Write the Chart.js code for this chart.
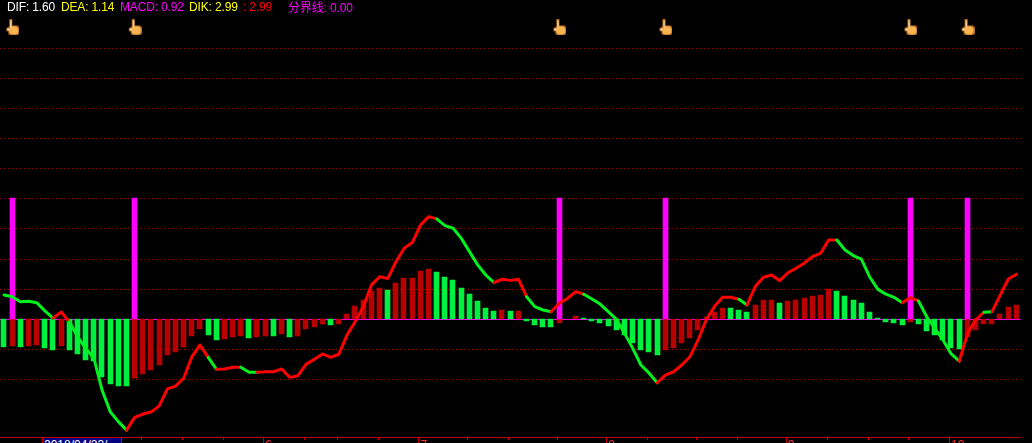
<!DOCTYPE html>
<html>
<head>
<meta charset="utf-8">
<title>MACD</title>
<script src="https://cdn.jsdelivr.net/npm/chart.js@4"></script>
<style>
html,body{margin:0;padding:0;background:#000;overflow:hidden}
#wrap{position:relative;width:1032px;height:443px;overflow:hidden;background:#000}
canvas{position:absolute;left:0;top:0}
.t{position:absolute;top:0;font:12px/14px "Liberation Sans",Arial,sans-serif;white-space:pre;letter-spacing:-0.15px}
#dateBox{position:absolute;left:42px;top:438px;width:77px;height:8px;background:#000080;border-left:1px solid #c00000;border-right:1px solid #c00000;color:#fff;font:12px/14px "Liberation Sans",Arial,sans-serif;padding-left:1px;box-sizing:content-box;white-space:pre}
</style>
</head>
<body>
<div id="wrap">
<canvas id="c" width="1032" height="443"></canvas>
<span class="t" style="left:7px;color:#fff">DIF: 1.60</span>
<span class="t" style="left:61px;color:#ff0">DEA: 1.14</span>
<span class="t" style="left:120px;color:#f0f">MACD: 0.92</span>
<span class="t" style="left:189px;color:#ff0">DIK: 2.99</span>
<span class="t" style="left:243px;color:#f00">: 2.99</span>
<span class="t" style="left:288px;color:#f0f;font-family:'Noto Sans CJK SC','Liberation Sans',sans-serif">分界线<span style="font-family:'Liberation Sans'">: 0.00</span></span>
<div id="dateBox">2018/04/23/</div>
</div>
<script>
const difValues = [
0.86,0.80,0.62,0.64,0.59,0.30,0.04,0.26,-0.09,-0.62,-1.03,-1.38,-2.51,-3.28,-3.63,-3.93,
-3.48,-3.36,-3.29,-3.07,-2.47,-2.37,-2.09,-1.33,-0.91,-1.35,-1.77,-1.76,-1.70,-1.70,-1.88,-1.88,
-1.86,-1.86,-1.76,-2.06,-2.00,-1.59,-1.42,-1.23,-1.35,-1.24,-0.56,-0.09,0.45,1.22,1.51,1.45,
2.04,2.52,2.72,3.34,3.64,3.56,3.32,3.23,2.87,2.40,1.93,1.57,1.30,1.42,1.38,1.42,
0.80,0.45,0.33,0.27,0.57,0.74,0.98,0.89,0.72,0.54,0.27,0.00,-0.50,-1.03,-1.62,-1.91,
-2.25,-1.98,-1.86,-1.62,-1.33,-0.73,-0.02,0.45,0.78,0.78,0.71,0.51,1.16,1.49,1.57,1.37,
1.65,1.81,1.99,2.22,2.34,2.81,2.81,2.46,2.26,2.13,1.51,1.07,0.89,0.78,0.59,0.77,
0.65,0.09,-0.32,-0.73,-1.23,-1.48,-0.50,-0.02,0.25,0.27,0.86,1.43,1.60];
const macdValues = [
-1.76,-1.70,-1.76,-1.70,-1.66,-1.83,-1.95,-1.70,-1.95,-2.21,-2.60,-2.66,-3.70,-4.15,-4.28,-4.28,
-3.76,-3.50,-3.25,-2.92,-2.28,-2.08,-1.76,-1.05,-0.63,-0.99,-1.31,-1.25,-1.12,-1.05,-1.18,-1.12,
-1.05,-1.05,-0.92,-1.12,-1.05,-0.60,-0.47,-0.28,-0.34,-0.28,0.34,0.86,1.25,1.83,2.02,1.89,
2.34,2.66,2.66,3.12,3.25,3.05,2.73,2.54,2.02,1.63,1.18,0.73,0.54,0.60,0.54,0.54,
-0.11,-0.37,-0.50,-0.50,-0.24,0.02,0.21,0.08,-0.11,-0.24,-0.43,-0.69,-1.01,-1.53,-1.98,-2.11,
-2.30,-1.98,-1.85,-1.53,-1.21,-0.69,0.13,0.47,0.73,0.73,0.60,0.47,0.92,1.25,1.25,1.05,
1.18,1.25,1.37,1.50,1.57,1.95,1.83,1.50,1.25,1.05,0.47,0.08,-0.17,-0.24,-0.37,-0.17,
-0.30,-0.75,-1.01,-1.34,-1.85,-1.92,-1.14,-0.69,-0.30,-0.30,0.34,0.79,0.92];
const macdGreenBars = [0,2,5,6,8,9,10,11,12,13,14,15,25,26,30,33,35,40,47,53,54,55,56,57,58,59,60,62,64,65,66,67,
71,72,73,74,75,76,77,78,79,80,89,90,91,95,102,103,104,105,106,107,108,109,110,112,113,114,115,116,117];
const difGreenRuns = [[0,6],[8,15],[25,26],[29,31],[53,60],[64,67],[71,80],[90,91],[102,110],[112,117],[120,121]];
const signalBars = [1,16,68,81,111,118];
const signalHeight = 7.81;
const handLevel = 10.35;
const monthTicks = {32:"6",51:"7",74:"8",96:"9",116:"10"};
const minorTicks = [17,22,27,37,41,46,57,62,68,79,85,90,101,106,111];

const categories = difValues.map((_, i) => i);
const pxLine = 28.2, pxBar = 15.5, zeroY = 319.3, axisY = 437.3, gridStepPx = 30.1;

const hand = document.createElement('canvas');
hand.width = 14; hand.height = 16;
(function () {
  const g = hand.getContext('2d');
  g.fillStyle = '#b86a1c';
  g.beginPath(); g.roundRect(3, 6, 11, 10, 3); g.fill();
  g.beginPath(); g.roundRect(1, 8, 4, 4, 1.5); g.fill();
  g.fillRect(4, 0, 3, 8);
  g.fillStyle = '#f8b552';
  g.beginPath(); g.roundRect(4, 7, 9, 8, 3); g.fill();
  g.fillStyle = '#ffe6bd';
  g.fillRect(5, 1, 1.4, 7);
  g.fillRect(2, 9, 2, 2);
})();

const tickPlugin = {
  id: 'tickMarks',
  afterDatasetsUpdate(chart) {
    chart.data.datasets.forEach((d, k) => {
      if (d.type !== 'bar') return;
      chart.getDatasetMeta(k).data.forEach(el => {
        el.x = Math.floor(el.x - 0.2) + 0.5;
        el.y = Math.round(el.y);
        el.base = Math.round(el.base);
      });
    });
  },
  afterDraw(chart) {
    const x = chart.scales.x, c = chart.ctx;
    c.save();
    c.fillStyle = '#c00000';
    minorTicks.forEach(i => c.fillRect(Math.round(x.getPixelForValue(i)) - 2, 437, 1, 3));
    Object.keys(monthTicks).forEach(i => c.fillRect(Math.round(x.getPixelForValue(+i)) - 2, 437, 1, 6));
    c.restore();
  }
};

new Chart(document.getElementById('c'), {
  data: {
    labels: categories,
    datasets: [
      { type: 'line', label: 'DIF', data: difValues, yAxisID: 'y', order: 0,
        borderWidth: 3, tension: 0, pointRadius: 0, borderJoinStyle: 'round', borderCapStyle: 'round',
        borderColor: '#ff0000',
        segment: { borderColor: ctx => difGreenRuns.some(r => ctx.p0DataIndex >= r[0] && ctx.p0DataIndex < r[1]) ? '#00f020' : '#ff0000' } },
      { type: 'line', label: 'Signal', data: categories.map(i => signalBars.includes(i) ? handLevel : null), yAxisID: 'y', order: 0,
        showLine: false, pointStyle: hand, pointRadius: 7 },
      { type: 'bar', label: 'DIK', data: categories.map(i => signalBars.includes(i) ? signalHeight : null), yAxisID: 'yBar', order: 1,
        backgroundColor: '#ff00ff', barThickness: 5, grouped: false },
      { type: 'bar', label: 'MACD', data: macdValues, yAxisID: 'yBar', order: 2, grouped: false, barThickness: 5,
        backgroundColor: categories.map(i => macdGreenBars.includes(i) ? '#00f040' : '#b80000') }
    ]
  },
  options: {
    responsive: false, animation: false, events: [],
    layout: { autoPadding: false, padding: { left: 0, right: 11.4, top: 0, bottom: 0 } },
    plugins: { legend: { display: false }, tooltip: { enabled: false }, title: { display: false } },
    scales: {
      x: {
        type: 'category', offset: true,
        grid: { display: false, drawTicks: false },
        border: { display: true, color: '#c00000', width: 1 },
        ticks: { autoSkip: false, maxRotation: 0, minRotation: 0, align: 'start', padding: 1,
          color: '#ff3030', font: { family: 'Liberation Sans', size: 12 },
          callback: v => monthTicks[v] || '' },
        afterFit: s => { s.height = 443 - axisY; }
      },
      y: {
        position: 'left',
        min: (zeroY - axisY) / pxLine, max: zeroY / pxLine,
        afterBuildTicks: s => {
          const step = gridStepPx / pxLine, out = [];
          for (let k = -2; k <= 9; k++) out.push({ value: k * step });
          s.ticks = out;
        },
        afterFit: s => { s.width = 0; },
        ticks: { display: false },
        border: { display: false, dash: ctx => ctx.tick && ctx.tick.value === 0 ? [] : [1, 3] },
        grid: { drawTicks: false, lineWidth: 1,
          color: ctx => ctx.tick && ctx.tick.value === 0 ? '#ff00ff' : '#a00000' }
      },
      yBar: {
        display: false,
        min: (zeroY - axisY) / pxBar, max: zeroY / pxBar
      }
    }
  },
  plugins: [tickPlugin]
});
</script>
</body>
</html>
